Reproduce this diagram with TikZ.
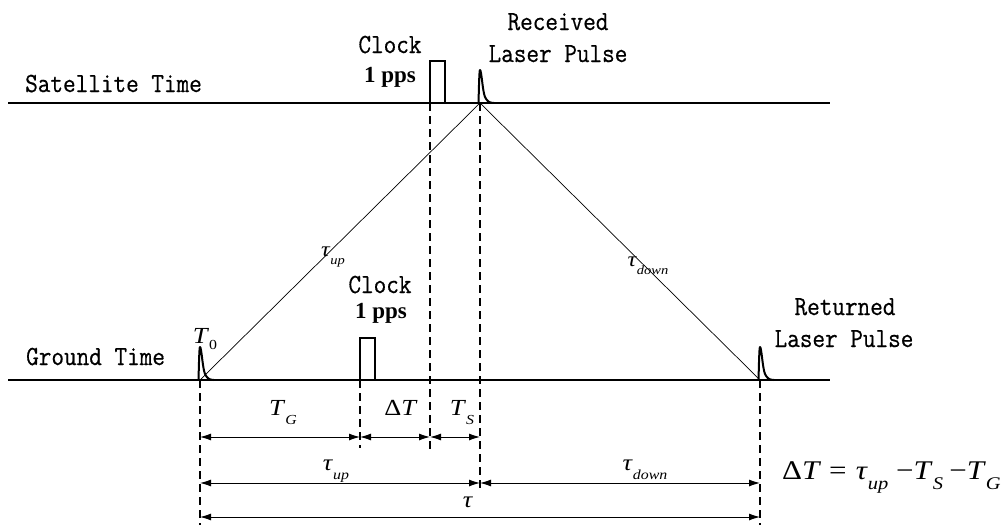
\documentclass[tikz,border=0pt]{standalone}
\usepackage{fontspec}
\setmainfont{Liberation Serif}
\setmonofont[FakeBold=0.6]{Latin Modern Mono}
\usetikzlibrary{arrows.meta}
\newcommand\sym[2]{\textit{#1}\raisebox{-0.4em}{\scalebox{0.6}{\textit{#2}}}}
\newcommand\esym[2]{\textit{#1}\raisebox{-0.38em}{\scalebox{0.66}{\textit{#2}}}}
\newcommand\mtxt[1]{\scalebox{1}[1.13]{#1}}
\newcommand\wide[1]{\scalebox{1.15}[1]{#1}}
\newcommand\laserpulse[1]{%
  \begin{scope}[shift={(#1)}]
    \draw[pulse] (-11,0) -- (15,0);
    \draw[pulse,line join=round] (-1.5,0) .. controls (-1,-18) and (-0.7,-33) .. (0,-33)
       .. controls (1.5,-33) and (2.5,-12) .. (5,-6) .. controls (7,-2) and (9,0) .. (14,0);
  \end{scope}}
\tikzset{
  axis/.style={line width=1.2pt},
  ray/.style={line width=0.7pt},
  guide/.style={line width=1.6pt, dash pattern=on 8pt off 5pt},
  dim/.style={line width=0.9pt, {Latex[length=11pt,width=7pt]}-{Latex[length=11pt,width=7pt]}},
  pulse/.style={line width=2pt},
  mlab/.style={font=\ttfamily\fontsize{24.5}{28}\selectfont, anchor=base, inner sep=0pt},
  blab/.style={font=\bfseries\fontsize{23}{26}\selectfont, anchor=base, inner sep=0pt},
  symlab/.style={font=\fontsize{23}{25}\selectfont, anchor=base, inner sep=0pt},
  smallsym/.style={font=\fontsize{21}{23}\selectfont, anchor=base, inner sep=0pt},
}
\begin{document}
\begin{tikzpicture}[x=1pt,y=-1pt]
\useasboundingbox (0,0) rectangle (1008,525);
% key points
\coordinate (satL) at (8,103);
\coordinate (satR) at (830,103);
\coordinate (grL) at (8,380);
\coordinate (grR) at (830,380);
\coordinate (T0) at (200,380);
\coordinate (S) at (480,103);
\coordinate (R) at (760,380);
\coordinate (gc) at (360,380);
\coordinate (sc) at (430,103);
% row levels
\coordinate (r1) at (0,437);
\coordinate (r2) at (0,483);
\coordinate (r3) at (0,517);
\coordinate (bot) at (0,525);
\coordinate (gcEnd) at (360,448);
\coordinate (scEnd) at (430,453);
\coordinate (SEnd) at (480,490);

% time axes
\draw[axis] (satL) -- (satR);
\draw[axis] (grL) -- (grR);

% rays
\draw[ray] (T0) -- (S);
\draw[ray] (S) -- (R);

% clock pulses
\draw[pulse,line join=miter] (sc) -- ++(0,-42) -- ++(15,0) -- ++(0,42);
\draw[pulse,line join=miter] (gc) -- ++(0,-42) -- ++(15,0) -- ++(0,42);

% laser pulses
\laserpulse{T0}
\laserpulse{S}
\laserpulse{R}

% guides
\draw[guide] (T0) -- (T0 |- bot);
\draw[guide] (gc) -- (gcEnd);
\draw[guide] (sc) -- (scEnd);
\draw[guide] (S) -- (SEnd);
\draw[guide] (R) -- (R |- bot);

% dimension arrows
\draw[dim] (T0 |- r1) -- (gc |- r1);
\draw[dim] (gc |- r1) -- (sc |- r1);
\draw[dim] (sc |- r1) -- (S |- r1);
\draw[dim] (T0 |- r2) -- (S |- r2);
\draw[dim] (S |- r2) -- (R |- r2);
\draw[dim] (T0 |- r3) -- (R |- r3);

% text labels
\node[mlab, anchor=base west] (satT) at (25,92) {\mtxt{Satellite Time}};
\node[mlab, anchor=base west] (grT) at (26,365) {\mtxt{Ground Time}};
\node[mlab] (clk1) at (390,53) {\mtxt{Clock}};
\node[blab] (pps1) at (390,82) {1 pps};
\node[mlab] (rec1) at (558,30) {\mtxt{Received}};
\node[mlab] (rec2) at (558,62) {\mtxt{Laser Pulse}};
\node[mlab] (clk2) at (380,293) {\mtxt{Clock}};
\node[blab] (pps2) at (381,318) {1 pps};
\node[mlab] (ret1) at (845,315) {\mtxt{Returned}};
\node[mlab] (ret2) at (844,347) {\mtxt{Laser Pulse}};

% symbols
\node[symlab] (t0) at (205,343) {\wide{\textit{T}\raisebox{-0.3em}{\scalebox{0.6}{0}}}};
\node[smallsym] (tupd) at (333,256) {\wide{\sym{τ}{up}}};
\node[smallsym] (tdownd) at (648,266) {\wide{\sym{τ}{down}}};
\node[symlab] (tg) at (283,415) {\wide{\sym{T}{G}}};
\node[symlab] (dt) at (401,415) {\wide{Δ\textit{T}}};
\node[symlab] (ts) at (462,415) {\wide{\sym{T}{S}}};
\node[symlab] (tup) at (336,470) {\wide{\sym{τ}{up}}};
\node[symlab] (tdown) at (645,470) {\wide{\sym{τ}{down}}};
\node[symlab] (tau) at (468,507) {\wide{\textit{τ}}};
\node[font=\fontsize{27}{29}\selectfont, anchor=base west, inner sep=0pt] (eq) at (782,479)
  {\scalebox{1.15}[1]{Δ\textit{T}\hspace{0.25em}=\hspace{0.3em}\esym{τ}{up}\hspace{0.25em}−\esym{T}{S}\hspace{0.2em}−\esym{T}{G}}};
\end{tikzpicture}
\end{document}
